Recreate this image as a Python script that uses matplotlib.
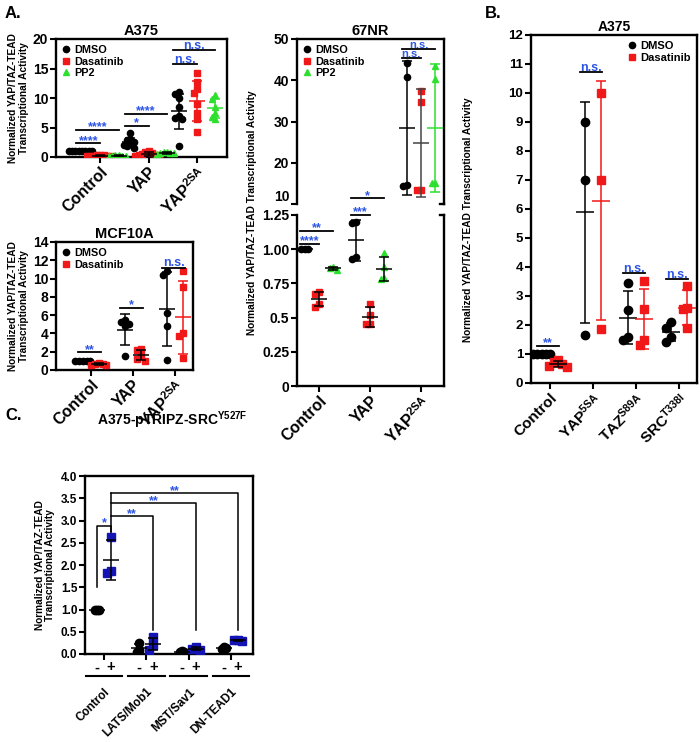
import numpy as np
import matplotlib
matplotlib.use('Agg')
import matplotlib.pyplot as plt
from matplotlib.lines import Line2D
from matplotlib.transforms import blended_transform_factory

plt.rcParams['font.family'] = ['Liberation Sans', 'DejaVu Sans']
plt.rcParams['font.weight'] = 'bold'
plt.rcParams['mathtext.fontset'] = 'custom'
plt.rcParams['mathtext.rm'] = 'Liberation Sans:bold'
plt.rcParams['mathtext.bf'] = 'Liberation Sans:bold'
plt.rcParams['mathtext.it'] = 'Liberation Sans:bold'

RED = '#f01818'
GREEN = '#2ee02e'
STAR = '#2d55e6'
CBLUE = '#1414b4'
YLAB = 'Normalized YAP/TAZ-TEAD\nTranscriptional Activity'
YLAB1 = 'Normalized YAP/TAZ-TEAD Transcriptional Activity'

# ---- A375 (panel A, top left)
a375_groups = ['Control', 'YAP', r'YAP$^{2SA}$']
a375_dmso = [[1.0, 1.0, 1.0, 1.0, 1.0, 1.0, 1.0, 1.0],
             [4.0, 3.1, 2.8, 2.5, 2.2, 2.0, 1.8, 1.6],
             [11.0, 10.6, 10.0, 8.5, 7.0, 6.6, 6.5, 1.8]]
a375_das = [[0.35, 0.3, 0.3, 0.25, 0.25, 0.2, 0.2, 0.15],
            [1.0, 0.8, 0.6, 0.5, 0.4, 0.3, 0.25, 0.2],
            [14.3, 12.7, 11.5, 10.8, 9.0, 7.5, 6.5, 4.2]]
a375_pp2 = [[0.3, 0.28, 0.25, 0.22, 0.2, 0.18],
            [0.9, 0.8, 0.7, 0.6, 0.6, 0.5],
            [10.5, 9.8, 8.5, 7.5, 6.8, 6.5]]
# (group, treatment a, treatment b, height, label)
a375_sig = [(0, 0, 1, 2.3, '****'), (0, 0, 2, 4.6, '****'),
            (1, 0, 1, 5.3, '*'), (1, 0, 2, 7.3, '****'),
            (2, 0, 1, 15.7, 'n.s.'), (2, 0, 2, 18.2, 'n.s.')]

# ---- MCF10A
mcf_groups = ['Control', 'YAP', r'YAP$^{2SA}$']
mcf_dmso = [[1.0, 1.0, 1.0, 1.0, 1.0],
            [5.5, 5.3, 5.0, 4.8, 1.5],
            [10.8, 10.4, 6.2, 4.8, 1.1]]
mcf_das = [[0.8, 0.7, 0.65, 0.6, 0.6],
           [2.3, 2.2, 1.5, 1.2, 1.0],
           [10.8, 9.1, 4.0, 3.7, 1.3]]
mcf_sig = [(0, 0, 1, 1.95, '**'), (1, 0, 1, 6.8, '*'), (2, 0, 1, 11.2, 'n.s.')]

# ---- 67NR
nr_groups = ['Control', 'YAP', r'YAP$^{2SA}$']
nr_dmso = [[1.0, 1.0, 1.0], [1.20, 1.19, 0.94, 0.93], [44.2, 40.8, 14.5, 14.3]]
nr_das = [[0.69, 0.67, 0.60, 0.58], [0.60, 0.52, 0.45, 0.45], [37.5, 34.7, 13.5, 13.4]]
nr_pp2 = [[0.87, 0.86, 0.85], [0.97, 0.87, 0.79, 0.78], [43.5, 40.3, 15.0, 15.0]]
nr_sig_low = [(0, 0, 1, 1.04, '****'), (0, 0, 2, 1.135, '**'), (1, 0, 1, 1.25, '***')]
nr_sig_up = [(1, 0, 2, 11.4, '*'), (2, 0, 1, 45.3, 'n.s.'), (2, 0, 2, 47.6, 'n.s.')]

# ---- panel B
b_groups = ['Control', r'YAP$^{5SA}$', r'TAZ$^{S89A}$', r'SRC$^{T338I}$']
b_dmso = [[1.0, 1.0, 1.0, 1.0, 1.0], [9.0, 7.0, 1.65],
          [3.45, 2.5, 1.6, 1.47], [2.1, 1.9, 1.6, 1.41]]
b_das = [[0.78, 0.72, 0.65, 0.6, 0.55], [10.0, 7.0, 1.87],
         [3.5, 2.54, 1.47, 1.32], [3.35, 2.6, 2.54, 1.9]]
b_sig = [(0, 0, 1, 1.28, '**'), (1, 0, 1, 10.72, 'n.s.'),
         (2, 0, 1, 3.8, 'n.s.'), (3, 0, 1, 3.57, 'n.s.')]

# ---- panel C
c_groups = ['Control', 'LATS/Mob1', 'MST/Sav1', 'DN-TEAD1']
c_minus = [[1.0, 1.0, 1.0], [0.25, 0.08, 0.05], [0.06, 0.04, 0.05], [0.15, 0.12, 0.13]]
c_plus = [[2.62, 1.87, 1.83], [0.38, 0.2, 0.1], [0.16, 0.12, 0.09], [0.32, 0.31, 0.30]]
c_ctrl_sig = (2.88, '*')
c_brackets = [(1, 3.09, '**'), (2, 3.39, '**'), (3, 3.61, '**')]

W, H = 700, 742
fig = plt.figure(figsize=(W / 100, H / 100), dpi=100)


def px_axes(l, t, r, b):
    return fig.add_axes([l / W, 1 - b / H, (r - l) / W, (b - t) / H])


def style(ax, fs):
    for s in ax.spines.values():
        s.set_linewidth(1.7)
    ax.tick_params(width=1.5, length=4, labelsize=fs, pad=1.5)


def swarm(vals, dy, dx):
    placed, offs = [], []
    for v in vals:
        for c in [0, -1, 1, -2, 2, -3, 3, -4, 4, -5, 5]:
            if all(abs(v - pv) > dy or abs(c * dx - po) > dx * 0.95 for pv, po in placed):
                break
        placed.append((v, c * dx))
        offs.append(c * dx)
    return np.array(offs)


def dots(ax, xc, vals, color, marker, ms, dy, dx, ecolor, mlen):
    vals = np.asarray(vals, float)
    ax.plot(xc + swarm(vals, dy, dx), vals, ls='none', marker=marker, ms=ms,
            color=color, mec=color, zorder=3)
    m, sd = vals.mean(), vals.std(ddof=1)
    ax.errorbar([xc], [m], yerr=[sd], fmt='none', ecolor=ecolor, elinewidth=1.1,
                capsize=mlen * 0.3, capthick=1.1, zorder=4)
    ax.plot([xc], [m], marker='_', ms=mlen, mew=1.1, color=ecolor, zorder=4)


def star_text(ax, x, y, label, fs):
    dy = -0.05 * fs if '*' in label else 0.8
    ax.annotate(label, xy=(x, y), xytext=(0, dy), textcoords='offset points',
                color=STAR, ha='center', va='baseline', fontsize=fs,
                fontweight='bold', annotation_clip=False)


def sig(ax, x1, x2, y, label, fs=9):
    ax.plot([x1, x2], [y, y], color='black', lw=1.3, clip_on=False, zorder=5)
    star_text(ax, (x1 + x2) / 2, y, label, fs)


def cat_labels(ax, labels, fs):
    ax.set_xticks(range(len(labels)))
    ax.set_xticklabels(labels, rotation=45, ha='right', rotation_mode='anchor',
                       fontsize=fs, fontweight='bold')


def legend(ax, names, colors, markers, loc, fs):
    hs = [Line2D([], [], ls='none', marker=m, color=c, ms=4.5) for m, c in zip(markers, colors)]
    ax.legend(hs, names, loc=loc, frameon=False, prop=dict(weight='bold', size=fs),
              handlelength=0.7, handletextpad=0.4, borderaxespad=0.15, labelspacing=0.15)


# ================= A375 =================
ax = px_axes(56, 39, 227, 157)
off3 = [-0.38, 0.0, 0.38]
series = [(a375_dmso, 'black', 'o', 'black'), (a375_das, RED, 's', RED), (a375_pp2, GREEN, '^', GREEN)]
for g in range(3):
    for t, (data, col, mk, ec) in enumerate(series):
        dots(ax, g + off3[t], data[g], col, mk, 4.5, 0.8, 0.07, ec if g == 2 else 'black', 11)
for g, a, b, y, lab in a375_sig:
    sig(ax, g + off3[a] - 0.12, g + off3[b], y, lab)
ax.set_xlim(-0.92, 2.62)
ax.set_ylim(0, 20)
ax.set_yticks([0, 5, 10, 15, 20])
style(ax, 10)
cat_labels(ax, a375_groups, 11.5)
ax.set_title('A375', fontsize=10.5, fontweight='bold', pad=3)
legend(ax, ['DMSO', 'Dasatinib', 'PP2'], ['black', RED, GREEN], ['o', 's', '^'], 'upper left', 7.8)
ax.set_ylabel(YLAB, fontsize=7.3, fontweight='bold', labelpad=3, linespacing=1.1)

# ================= MCF10A =================
ax = px_axes(56, 242, 193, 370)
off2 = [-0.19, 0.19]
series = [(mcf_dmso, 'black', 'o', 'black'), (mcf_das, RED, 's', RED)]
for g in range(3):
    for t, (data, col, mk, ec) in enumerate(series):
        dots(ax, g + off2[t], data[g], col, mk, 4.5, 0.55, 0.09, ec if g == 2 else 'black', 11)
for g, a, b, y, lab in mcf_sig:
    sig(ax, g + off2[a] - 0.12, g + off2[b] + 0.05, y, lab)
ax.set_xlim(-0.83, 2.43)
ax.set_ylim(0, 14)
ax.set_yticks(range(0, 15, 2))
style(ax, 10)
cat_labels(ax, mcf_groups, 11.5)
ax.set_title('MCF10A', fontsize=10.5, fontweight='bold', pad=3)
legend(ax, ['DMSO', 'Dasatinib'], ['black', RED], ['o', 's'], 'upper left', 7.8)
ax.set_ylabel(YLAB, fontsize=7.3, fontweight='bold', labelpad=3, linespacing=1.1)

# ================= 67NR (broken axis) =================
axu = px_axes(297, 39, 444, 204)
axl = px_axes(297, 215, 444, 386)
off3n = [-0.28, 0.0, 0.28]
series = [(nr_dmso, 'black', 'o', 'black'), (nr_das, RED, 's', '#444444'), (nr_pp2, GREEN, '^', GREEN)]
for axx, dy in ((axu, 1.3), (axl, 0.035)):
    for g in range(3):
        for t, (data, col, mk, ec) in enumerate(series):
            dots(axx, g + off3n[t], data[g], col, mk, 4.5, dy, 0.07, ec if g == 2 else 'black', 11)
    axx.set_xlim(-0.43, 2.45)
for g, a, b, y, lab in nr_sig_low:
    sig(axl, g + off3n[a] - 0.1, g + off3n[b], y, lab)
for g, a, b, y, lab in nr_sig_up:
    sig(axu, g + off3n[a] - 0.1, g + off3n[b], y, lab, 8 if lab == 'n.s.' else 9)
axu.set_ylim(10, 50)
axu.set_yticks([10, 20, 30, 40, 50])
axu.set_xticks([])
axu.spines['bottom'].set_visible(False)
axl.set_ylim(0, 1.25)
axl.set_yticks([0, 0.25, 0.5, 0.75, 1.0, 1.25])
axl.set_yticklabels(['0', '0.25', '0.5', '0.75', '1.00', '1.25'])
axl.spines['top'].set_visible(False)
style(axu, 10)
style(axl, 10)
# the "10" at the break sits just above the "1.25" below it
axu.get_yticklabels()[0].set_va('bottom')
cat_labels(axl, nr_groups, 11.5)
for axx, yy in ((axu, 0.0), (axl, 1.0)):
    axx.plot([1.0, 0.975], [yy, yy], transform=axx.transAxes, color='black', lw=1.7, clip_on=False)
axu.set_title('67NR', fontsize=10.5, fontweight='bold', pad=3)
legend(axu, ['DMSO', 'Dasatinib', 'PP2'], ['black', RED, GREEN], ['o', 's', '^'], 'upper left', 7.8)
fig.text(252 / W, 1 - 213 / H, YLAB1, rotation=90, ha='center', va='center', fontsize=7.3, fontweight='bold')

# ================= panel B =================
ax = px_axes(531, 35, 697, 383)
series = [(b_dmso, 'black', 'o', 'black'), (b_das, RED, 's', RED)]
for g in range(4):
    for t, (data, col, mk, ec) in enumerate(series):
        dots(ax, g + off2[t], data[g], col, mk, 6, 0.24, 0.1, ec if g > 0 else 'black', 13)
for g, a, b, y, lab in b_sig:
    sig(ax, g + off2[a] - 0.1, g + off2[b] + 0.02, y, lab)
ax.set_xlim(-0.44, 3.42)
ax.set_ylim(0, 12)
ax.set_yticks(range(0, 13))
style(ax, 9.5)
cat_labels(ax, b_groups, 11)
ax.set_title('A375', fontsize=10, fontweight='bold', pad=3)
legend(ax, ['DMSO', 'Dasatinib'], ['black', RED], ['o', 's'], 'upper right', 8)
fig.text(468 / W, 1 - 220 / H, YLAB1, rotation=90, ha='center', va='center', fontsize=7.3, fontweight='bold')

# ================= panel C =================
ax = px_axes(85, 476, 253, 654)
for g in range(4):
    dots(ax, 3 * g, c_minus[g], 'black', 'o', 6, 0.15, 0.15, 'black', 12)
    dots(ax, 3 * g + 1, c_plus[g], CBLUE, 's', 6, 0.15, 0.3, 'black', 12)
yc, lab = c_ctrl_sig
ax.plot([0, 0, 1, 1], [1.5, yc, yc, 2.75], color='black', lw=1.1)
star_text(ax, 0.5, yc, lab, 9)
ax.plot([1, 1], [2.75, max(b[1] for b in c_brackets)], color='black', lw=1.1)
for g, y, lab in c_brackets:
    ax.plot([1, 3 * g + 1, 3 * g + 1], [y, y, 0.55], color='black', lw=1.1)
    star_text(ax, (1 + 3 * g + 1) / 2, y, lab, 9)
ax.set_xlim(-0.85, 11.05)
ax.set_ylim(0, 4.0)
ax.set_yticks(np.arange(0, 4.01, 0.5))
ax.set_yticklabels(['%.1f' % v for v in np.arange(0, 4.01, 0.5)])
ax.set_xticks([3 * g + 0.5 for g in range(4)])
ax.set_xticklabels(c_groups, rotation=45, ha='right', rotation_mode='anchor', fontsize=10,
                   fontweight='bold')
style(ax, 8.5)
ax.tick_params(axis='x', pad=19)
tr = blended_transform_factory(ax.transData, ax.transAxes)
for g in range(4):
    ax.text(3 * g, -0.075, '-', transform=tr, ha='center', va='center', fontsize=10.5)
    ax.text(3 * g + 1, -0.075, '+', transform=tr, ha='center', va='center', fontsize=10.5)
    ax.plot([3 * g - 0.8, 3 * g + 1.8], [-0.125, -0.125], transform=tr, color='black',
            lw=1.5, clip_on=False)
fig.text(172 / W, 1 - 420 / H, r'A375-pTRIPZ-SRC$^{Y527F}$', ha='center', va='center',
         fontsize=10, fontweight='bold')
ax.set_ylabel(YLAB, fontsize=7.3, fontweight='bold', labelpad=4, linespacing=1.1)

# panel letters
fig.text(5 / W, 1 - 14 / H, 'A.', fontsize=12, fontweight='bold', va='center')
fig.text(485 / W, 1 - 14 / H, 'B.', fontsize=12, fontweight='bold', va='center')
fig.text(5 / W, 1 - 416 / H, 'C.', fontsize=12, fontweight='bold', va='center')

fig.savefig('out.png', dpi=100)
